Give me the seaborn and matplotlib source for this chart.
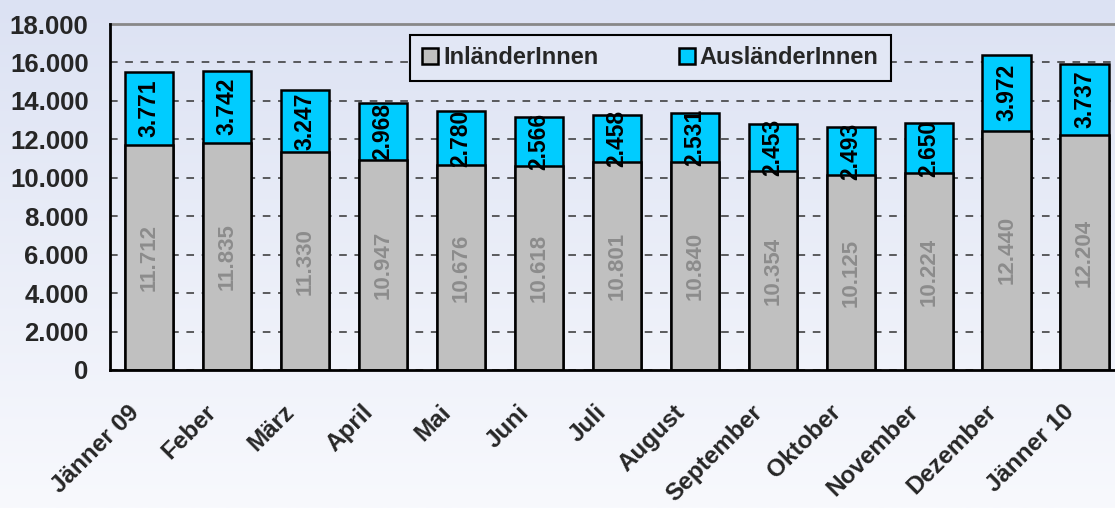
import numpy as np
import pandas as pd
import matplotlib
matplotlib.use('Agg')
import matplotlib.pyplot as plt
import matplotlib.transforms as mtransforms
from matplotlib.ticker import FuncFormatter, FixedLocator
from matplotlib.patches import Patch
import seaborn as sns

# data
monate = ['Jänner 09', 'Feber', 'März', 'April', 'Mai', 'Juni', 'Juli', 'August',
          'September', 'Oktober', 'November', 'Dezember', 'Jänner 10']
inlaender = [11712, 11835, 11330, 10947, 10676, 10618, 10801, 10840, 10354, 10125, 10224, 12440, 12204]
auslaender = [3771, 3742, 3247, 2968, 2780, 2566, 2458, 2531, 2453, 2493, 2650, 3972, 3737]

df = pd.DataFrame({'Monat': monate, 'InländerInnen': inlaender, 'AusländerInnen': auslaender})
df['Gesamt'] = df['InländerInnen'] + df['AusländerInnen']

sns.set_style('white')
plt.rcParams['font.family'] = ['Liberation Sans', 'DejaVu Sans']
plt.rcParams['font.weight'] = 'bold'

fig = plt.figure(figsize=(11.15, 5.08), dpi=100)

# gradient background
bg = fig.add_axes([0, 0, 1, 1], zorder=-10)
grad = np.linspace(0, 1, 256).reshape(-1, 1)
top_c = np.array([0xdc, 0xe2, 0xf3]) / 255
bot_c = np.array([0xf8, 0xf9, 0xfd]) / 255
img = top_c * (1 - grad[..., None]) + bot_c * grad[..., None]
bg.imshow(img, aspect='auto', extent=[0, 1, 0, 1])
bg.axis('off')

ax = fig.add_axes([0.0987, 0.2717, 0.909, 0.681])
ax.patch.set_alpha(0)

blue = '#00CCFF'
grey = '#C0C0C0'

sns.barplot(data=df, x='Monat', y='Gesamt', color=blue, width=0.62, saturation=1,
            edgecolor='black', linewidth=1.8, ax=ax, zorder=3)
sns.barplot(data=df, x='Monat', y='InländerInnen', color=grey, width=0.62, saturation=1,
            edgecolor='black', linewidth=1.8, ax=ax, zorder=3)

ax.set_ylim(0, 18000)
ax.set_xlim(-0.5, len(monate) - 0.5)
ax.set_xlabel('')
ax.set_ylabel('')

# value labels
for i, (a, b) in enumerate(zip(inlaender, auslaender)):
    ax.text(i, a / 2, f'{a:,}'.replace(',', '.'), rotation=90, ha='center', va='center',
            fontsize=16, fontweight='bold', color='#8c8c8c', zorder=5)
    ax.text(i, a + b / 2, f'{b:,}'.replace(',', '.'), rotation=90, ha='center', va='center',
            fontsize=16.5, fontweight='bold', color='black', zorder=5)

# grid
ax.set_yticks(np.arange(0, 18001, 2000))
ax.yaxis.set_major_formatter(FuncFormatter(lambda v, p: f'{int(v):,}'.replace(',', '.')))
ax.grid(axis='y', color='#333333', linestyle=(0, (5, 5)), linewidth=1.1, zorder=1)
ax.set_axisbelow(True)

for s in ['left', 'bottom']:
    ax.spines[s].set_color('black')
    ax.spines[s].set_linewidth(2)
    ax.spines[s].set_zorder(6)
ax.spines['top'].set_visible(True)
ax.spines['top'].set_color('#888888')
ax.spines['top'].set_linewidth(2)
ax.spines['right'].set_visible(False)

ax.tick_params(axis='y', direction='out', length=9, width=2, labelsize=18.5, pad=6.5)
for t in ax.get_yticklabels():
    t.set_fontweight('bold')

# x ticks: labels at bar centres, marks between bars
ax.set_xticks(range(len(monate)))
ax.set_xticklabels(monate, rotation=45, ha='right', va='top', rotation_mode='anchor',
                   fontsize=17.5, fontweight='bold')
ax.tick_params(axis='x', which='major', length=0, pad=22)
ax.xaxis.set_minor_locator(FixedLocator(np.arange(-0.5, len(monate), 1)))
ax.tick_params(axis='x', which='minor', direction='out', length=8, width=2)
offset = mtransforms.ScaledTranslation(-22 / 100, 0, fig.dpi_scale_trans)
for t in ax.get_xticklabels():
    t.set_transform(t.get_transform() + offset)

# legend
handles = [Patch(facecolor=grey, edgecolor='black', linewidth=1.8, label='InländerInnen'),
           Patch(facecolor=blue, edgecolor='black', linewidth=1.8, label='AusländerInnen')]
leg = ax.legend(handles=handles, ncol=2, loc='center', bbox_to_anchor=(0.533, 0.902),
                frameon=True, fancybox=False, handlelength=0.7, handleheight=0.7,
                handletextpad=0.2, columnspacing=3.4, borderpad=0.5,
                prop={'size': 17, 'weight': 'bold'})
leg.get_frame().set_edgecolor('black')
leg.get_frame().set_linewidth(1.5)
leg.get_frame().set_facecolor('#e2e7f5')
leg.get_frame().set_alpha(1)
leg.set_zorder(10)

fig.savefig('out.png', dpi=100)
